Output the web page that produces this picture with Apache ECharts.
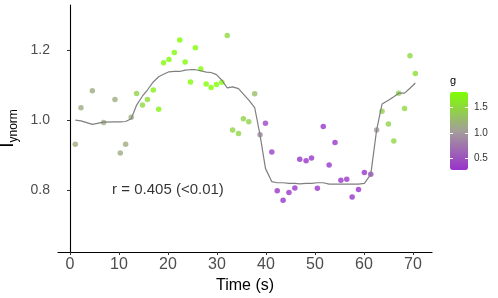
<!DOCTYPE html>
<html><head><meta charset="utf-8">
<script src="https://cdn.jsdelivr.net/npm/echarts@6/dist/echarts.min.js"></script>
<style>html,body{margin:0;padding:0;background:#fff}#c{width:498px;height:298px}</style>
</head><body><div id="c"></div>
<script>
// time (s) of each measurement
const times = [1.08,2.24,4.56,6.87,9.18,10.27,11.36,12.5,13.6,14.8,15.8,17.0,18.1,19.1,20.2,21.3,22.4,23.5,24.6,25.6,26.7,27.8,28.8,29.9,31.0,32.1,33.2,34.4,35.4,36.5,37.7,38.8,39.9,41.2,42.3,43.5,44.7,45.9,46.9,48.2,49.3,50.5,51.7,52.9,54.1,55.3,56.5,57.6,58.9,60.1,61.4,62.6,63.7,65.0,66.1,67.1,68.3,69.4,70.5];
// I_ynorm observed
const yvals = [0.931,1.035,1.084,0.993,1.059,0.906,0.931,1.008,1.076,1.043,1.059,1.086,1.031,1.164,1.173,1.193,1.229,1.166,1.109,1.207,1.146,1.103,1.093,1.102,1.108,1.242,0.972,0.962,1.004,0.995,1.075,0.958,0.991,0.909,0.798,0.771,0.793,0.806,0.888,0.884,0.892,0.805,0.982,0.872,0.936,0.828,0.831,0.780,0.802,0.850,0.845,0.972,1.025,0.989,0.940,1.077,1.033,1.184,1.133];
// g (colour)
const gvals = [1.16,1.16,1.16,1.16,1.16,1.16,1.16,1.18,1.45,1.5,1.55,1.7,1.72,1.78,1.78,1.78,1.8,1.78,1.8,1.8,1.78,1.8,1.8,1.8,1.78,1.5,1.48,1.48,1.45,1.45,1.3,0.88,0.42,0.35,0.3,0.3,0.3,0.3,0.3,0.3,0.3,0.3,0.3,0.3,0.3,0.3,0.3,0.3,0.3,0.3,0.4,1.0,1.45,1.45,1.5,1.45,1.5,1.5,1.55];
// smoothed curve
const fitVals = [1.000,0.998,0.988,0.994,0.995,0.995,0.996,1.004,1.043,1.069,1.086,1.109,1.124,1.131,1.138,1.139,1.139,1.143,1.144,1.144,1.141,1.137,1.136,1.130,1.114,1.092,1.095,1.090,1.074,1.057,1.036,0.957,0.862,0.824,0.821,0.821,0.819,0.819,0.818,0.819,0.819,0.821,0.821,0.817,0.817,0.817,0.817,0.817,0.817,0.819,0.845,0.972,1.046,1.057,1.067,1.077,1.077,1.091,1.106];
const xTicks = [0,10,20,30,40,50,60,70];
const yTicks = [0.8,1.0,1.2];
const gTicks = [0.5,1.0,1.5];
const gRange = [0.27,1.81];
const annotX = 20, annotY = 0.8, annotText = 'r = 0.405 (<0.01)';

const FONT = 'Liberation Sans, Arial, Helvetica, sans-serif';
const chart = echarts.init(document.getElementById('c'), null, {renderer:'canvas'});
const colorAxisBase = {
  gridIndex:1, type:'value', min:gRange[0], max:gRange[1], z:10,
  axisLine:{show:false}, splitLine:{show:false},
  axisTick:{show:true, inside:true, length:3, customValues:gTicks, lineStyle:{color:'#ffffff', width:1}}
};
chart.setOption({
  animation:false,
  backgroundColor:'#ffffff',
  textStyle:{fontFamily:FONT},
  grid:[{left:58, top:5, right:66, bottom:46, containLabel:false, outerBoundsMode:'none'},
        {left:450, top:92, width:18, height:78, containLabel:false, outerBoundsMode:'none'}],
  xAxis:[{
    gridIndex:0, type:'value', min:-2.45, max:73.9,
    axisLine:{lineStyle:{color:'#000', width:1.1}},
    axisTick:{length:3, customValues:xTicks, lineStyle:{color:'#333', width:1}},
    axisLabel:{customValues:xTicks, fontSize:16, color:'#4D4D4D', margin:5, fontFamily:FONT},
    splitLine:{show:false},
    name:'Time (s)', nameLocation:'middle', nameGap:22,
    nameTextStyle:{fontSize:16, color:'#000', fontFamily:FONT}
  },{
    gridIndex:1, type:'value', show:false, min:0, max:1
  }],
  yAxis:[{
    gridIndex:0, type:'value', min:0.623, max:1.329,
    axisLine:{show:true, lineStyle:{color:'#000', width:1.1}},
    axisTick:{show:true, length:3, customValues:yTicks, lineStyle:{color:'#333', width:1}},
    axisLabel:{customValues:yTicks, fontSize:14, color:'#4D4D4D', margin:8, fontFamily:FONT, formatter:v=>v.toFixed(1)},
    splitLine:{show:false},
    name:'{a|I}{b|ynorm}', nameLocation:'middle', nameGap:36, nameRotate:90,
    nameTextStyle:{fontFamily:FONT, rich:{
      a:{fontSize:19, color:'#000', lineHeight:24, verticalAlign:'middle', fontFamily:FONT},
      b:{fontSize:12, color:'#000', lineHeight:24, verticalAlign:'bottom', fontFamily:FONT}
    }}
  },
  Object.assign({}, colorAxisBase, {position:'left', axisLabel:{show:false},
    name:'g', nameLocation:'end', nameGap:6,
    nameTextStyle:{fontSize:11, color:'#000', align:'left', verticalAlign:'bottom', fontFamily:FONT}}),
  Object.assign({}, colorAxisBase, {position:'right',
    axisLabel:{show:true, customValues:gTicks, fontSize:10, color:'#333', margin:6, fontFamily:FONT, formatter:v=>v.toFixed(1)}})
  ],
  visualMap:{
    type:'continuous', min:gRange[0], max:gRange[1], dimension:2, seriesIndex:0,
    orient:'vertical', left:450, top:92, itemWidth:18, itemHeight:78, padding:0,
    calculable:false, showLabel:false, z:2,
    inRange:{color:['#9932CC','#A39E99','#7FFF00']}
  },
  series:[{
    type:'scatter', xAxisIndex:0, yAxisIndex:0, z:2,
    symbolSize:5.5,
    data: times.map((t,i)=>[t, yvals[i], gvals[i]])
  },{
    type:'line', xAxisIndex:0, yAxisIndex:0, z:3, showSymbol:false, symbol:'none',
    lineStyle:{color:'#7F7F7F', width:1.2},
    data: times.map((t,i)=>[t, fitVals[i]])
  },{
    type:'scatter', xAxisIndex:0, yAxisIndex:0, z:4, symbolSize:0, silent:true,
    data:[[annotX, annotY]],
    label:{show:true, position:'inside', formatter:annotText, fontSize:15, color:'#000', fontFamily:FONT}
  }]
});
</script></body></html>
